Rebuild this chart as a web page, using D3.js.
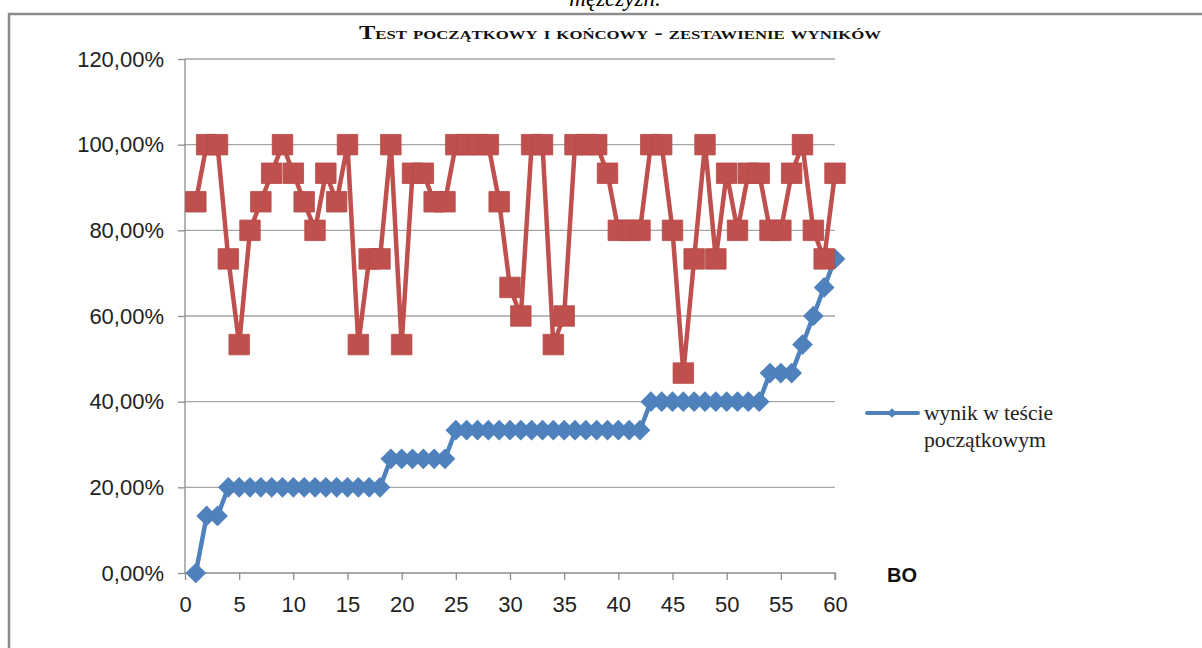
<!DOCTYPE html>
<html>
<head>
<meta charset="utf-8">
<script src="https://cdn.jsdelivr.net/npm/d3@7"></script>
<style>
  html, body { margin: 0; padding: 0; background: #fff; }
  svg { display: block; }
</style>
</head>
<body>
<svg id="chart" width="1202" height="648"></svg>
<script>
// ---- data ----
const respondents = [1,2,3,4,5,6,7,8,9,10,11,12,13,14,15,16,17,18,19,20,
  21,22,23,24,25,26,27,28,29,30,31,32,33,34,35,36,37,38,39,40,
  41,42,43,44,45,46,47,48,49,50,51,52,53,54,55,56,57,58,59,60];

// wynik w teście początkowym (%)
const initialScores = [0,13.33,13.33,20,20,20,20,20,20,20,20,20,20,20,20,20,20,20,
  26.67,26.67,26.67,26.67,26.67,26.67,
  33.33,33.33,33.33,33.33,33.33,33.33,33.33,33.33,33.33,33.33,33.33,33.33,33.33,33.33,33.33,33.33,33.33,33.33,
  40,40,40,40,40,40,40,40,40,40,40,
  46.67,46.67,46.67,53.33,60,66.67,73.33];

// wynik w teście końcowym (%)
const finalScores = [86.67,100,100,73.33,53.33,80,86.67,93.33,100,93.33,
  86.67,80,93.33,86.67,100,53.33,73.33,73.33,100,53.33,
  93.33,93.33,86.67,86.67,100,100,100,100,86.67,66.67,
  60,100,100,53.33,60,100,100,100,93.33,80,
  80,80,100,100,80,46.67,73.33,100,73.33,93.33,
  80,93.33,93.33,80,80,93.33,100,80,73.33,93.33];

const yTicks = [0,20,40,60,80,100,120];
const xTicks = [0,5,10,15,20,25,30,35,40,45,50,55,60];
const yTickLabels = ["0,00%","20,00%","40,00%","60,00%","80,00%","100,00%","120,00%"];
const titleText = "Test początkowy i końcowy - zestawienie  wyników";
const legendLines = ["wynik w teście", "początkowym"];
const xAxisTitle = "BO";
const headerText = "mężczyzn.";

// ---- drawing ----
const svg = d3.select("#chart");
const blue = "#4F81BD", red = "#C0504D", grid = "#A6A6A6";

const x = d3.scaleLinear().domain([0, 60]).range([185, 835]);
const y = d3.scaleLinear().domain([0, 120]).range([573, 59]);

// header text (cut off at the top in the source)
svg.append("text").attr("x", 615).attr("y", 6)
  .attr("text-anchor", "middle")
  .style("font-family", "'Liberation Serif', serif").style("font-style", "italic")
  .style("font-size", "23px").attr("fill", "#000").text(headerText);

// frame
svg.append("path").attr("d", "M9,700 L9,14 L1210,14")
  .attr("fill", "none").attr("stroke", "#8C8C8C").attr("stroke-width", 2.5);

// title
svg.append("text").attr("x", 620).attr("y", 39)
  .attr("text-anchor", "middle")
  .attr("textLength", 522).attr("lengthAdjust", "spacingAndGlyphs")
  .style("font-family", "'Liberation Serif', serif")
  .style("font-variant", "small-caps").style("font-weight", "bold")
  .style("font-size", "19px").attr("fill", "#111").text(titleText);

// gridlines
svg.append("g").selectAll("line").data(yTicks.filter(d => d > 0)).join("line")
  .attr("x1", x(0)).attr("x2", x(60))
  .attr("y1", d => y(d)).attr("y2", d => y(d))
  .attr("stroke", grid).attr("stroke-width", 1.3);

// y axis
const yAxis = d3.axisLeft(y).tickValues(yTicks).tickSize(7).tickPadding(14)
  .tickFormat((d, i) => yTickLabels[i]);
const gy = svg.append("g").attr("transform", `translate(${x(0)},0)`).call(yAxis);
gy.select(".domain").attr("stroke", "#8C8C8C").attr("stroke-width", 1.3).attr("d", `M0,${y(0)}V${y(120)}`);
gy.selectAll(".tick line").attr("stroke", "#8C8C8C").attr("stroke-width", 1.3);
gy.selectAll(".tick text").style("font-family", "'Liberation Sans', sans-serif")
  .style("font-size", "22px").attr("fill", "#222");

// x axis
const xAxis = d3.axisBottom(x).tickValues(xTicks).tickSize(7).tickPadding(16);
const gx = svg.append("g").attr("transform", `translate(0,${y(0)})`).call(xAxis);
gx.select(".domain").attr("stroke", "#8C8C8C").attr("stroke-width", 1.3).attr("d", `M${x(0)},0H${x(60)}V7`);
gx.selectAll(".tick line").attr("stroke", "#8C8C8C").attr("stroke-width", 1.3);
gx.selectAll(".tick text").style("font-family", "'Liberation Sans', sans-serif")
  .style("font-size", "22px").attr("fill", "#222");

// x axis title
svg.append("text").attr("x", 902).attr("y", 582).attr("text-anchor", "middle")
  .style("font-family", "'Liberation Sans', sans-serif").style("font-weight", "bold")
  .style("font-size", "20px").attr("fill", "#111").text(xAxisTitle);

const line = d3.line().x(d => x(d[0])).y(d => y(d[1]));
const initialData = respondents.map((r, i) => [r, initialScores[i]]);
const finalData = respondents.map((r, i) => [r, finalScores[i]]);

// initial (blue) series
svg.append("path").datum(initialData).attr("d", line)
  .attr("fill", "none").attr("stroke", blue).attr("stroke-width", 4.5).attr("stroke-linejoin", "round");
const diamond = d3.symbol().type(d3.symbolSquare).size(215);
svg.append("g").selectAll("path").data(initialData).join("path")
  .attr("d", diamond)
  .attr("transform", d => `translate(${x(d[0])},${y(d[1])}) rotate(45)`)
  .attr("fill", blue);

// final (red) series
svg.append("path").datum(finalData).attr("d", line)
  .attr("fill", "none").attr("stroke", red).attr("stroke-width", 4.5).attr("stroke-linejoin", "round");
const square = d3.symbol().type(d3.symbolSquare).size(420);
svg.append("g").selectAll("path").data(finalData).join("path")
  .attr("d", square)
  .attr("transform", d => `translate(${x(d[0])},${y(d[1])})`)
  .attr("fill", red).attr("stroke", "#B84A47").attr("stroke-width", 0.8);

// legend
const lg = svg.append("g");
lg.append("line").attr("x1", 867).attr("x2", 918).attr("y1", 413).attr("y2", 413)
  .attr("stroke", blue).attr("stroke-width", 4).attr("stroke-linecap", "round");
lg.append("path").attr("d", d3.symbol().type(d3.symbolSquare).size(45))
  .attr("transform", "translate(892,413) rotate(45)").attr("fill", blue);
const legendWidths = [129, 122];
lg.selectAll("text").data(legendLines).join("text")
  .attr("x", 924).attr("y", (d, i) => 420 + i * 27)
  .attr("textLength", (d, i) => legendWidths[i]).attr("lengthAdjust", "spacingAndGlyphs")
  .style("font-family", "'Liberation Serif', serif").style("font-size", "21px")
  .attr("fill", "#222").text(d => d);
</script>
</body>
</html>
